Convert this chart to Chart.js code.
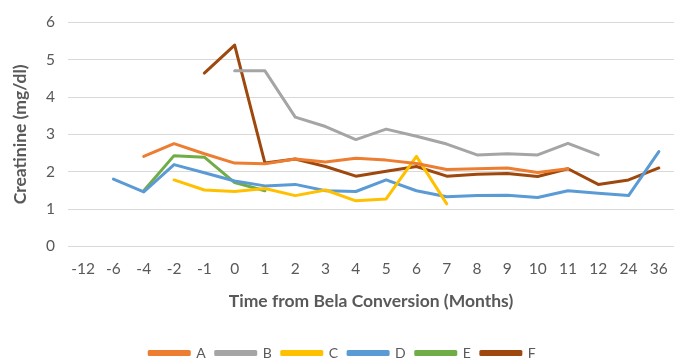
<!DOCTYPE html>
<html>
<head>
<meta charset="utf-8">
<script src="https://cdn.jsdelivr.net/npm/chart.js@4/dist/chart.umd.min.js"></script>
<style>
  html, body { margin: 0; padding: 0; background: #fff; }
  #wrap { width: 681px; height: 359px; }
</style>
</head>
<body>
<div id="wrap"><canvas id="c" width="681" height="359"></canvas></div>
<script>
// Months relative to belatacept conversion
const months = ['-12', '-6', '-4', '-2', '-1', '0', '1', '2', '3', '4', '5', '6', '7', '8', '9', '10', '11', '12', '24', '36'];

// Creatinine (mg/dl) per patient; null = no measurement
const seriesA = [null, null, 2.41, 2.75, 2.48, 2.23, 2.21, 2.34, 2.26, 2.36, 2.31, 2.22, 2.06, 2.08, 2.10, 1.98, 2.08, null, null, null];
const seriesB = [null, null, null, null, null, 4.70, 4.70, 3.46, 3.21, 2.86, 3.14, 2.95, 2.74, 2.45, 2.48, 2.45, 2.76, 2.45, null, null];
const seriesC = [null, null, null, 1.78, 1.51, 1.47, 1.55, 1.36, 1.51, 1.22, 1.27, 2.41, 1.14, null, null, null, null, null, null, null];
const seriesD = [null, 1.80, 1.46, 2.19, 1.97, 1.75, 1.62, 1.66, 1.49, 1.47, 1.78, 1.49, 1.33, 1.36, 1.37, 1.31, 1.49, 1.42, 1.36, 2.54];
const seriesE = [null, null, 1.49, 2.43, 2.39, 1.71, 1.49, null, null, null, null, null, null, null, null, null, null, null, null, null];
const seriesF = [null, null, null, null, 4.64, 5.39, 2.23, 2.34, 2.14, 1.88, 2.01, 2.14, 1.88, 1.93, 1.95, 1.87, 2.08, 1.66, 1.78, 2.10];

const yTicks = [0, 1, 2, 3, 4, 5, 6];

const FONT = 'Lato, "Open Sans", sans-serif';
const TEXT = '#595959';

function line(label, data, color) {
  return {
    label, data,
    borderColor: color,
    backgroundColor: color,
    borderWidth: 3,
    pointRadius: 0,
    pointHoverRadius: 0,
    tension: 0,
    spanGaps: false,
    borderCapStyle: 'round',
    borderJoinStyle: 'round'
  };
}

new Chart(document.getElementById('c'), {
  type: 'line',
  data: {
    labels: months,
    datasets: [
      line('A', seriesA, '#ED7D31'),
      line('B', seriesB, '#A5A5A5'),
      line('C', seriesC, '#FFC000'),
      line('D', seriesD, '#5B9BD5'),
      line('E', seriesE, '#70AD47'),
      line('F', seriesF, '#9E480E')
    ]
  },
  options: {
    responsive: false,
    animation: false,
    events: [],
    layout: { padding: { left: 10, right: 6, top: 12, bottom: -11 } },
    plugins: {
      tooltip: { enabled: false },
      legend: {
        position: 'bottom',
        labels: {
          font: { family: FONT, size: 14 },
          color: TEXT,
          boxWidth: 40,
          boxHeight: 3,
          padding: 10
        }
      }
    },
    scales: {
      x: {
        offset: true,
        grid: { display: false, drawTicks: false },
        border: { display: false },
        ticks: { font: { family: FONT, size: 15.5 }, color: TEXT, padding: 13, maxRotation: 0, autoSkip: false },
        title: {
          display: true,
          text: 'Time from Bela Conversion (Months)',
          font: { family: FONT, size: 17.5, weight: 'bold' },
          color: TEXT,
          padding: { top: 0, bottom: 24 }
        }
      },
      y: {
        min: 0, max: 6,
        afterBuildTicks: (axis) => { axis.ticks = yTicks.map(v => ({ value: v })); },
        grid: { color: '#D9D9D9', lineWidth: 1, drawTicks: false },
        border: { display: false },
        ticks: { font: { family: FONT, size: 15.5 }, color: TEXT, padding: 13 },
        title: {
          display: true,
          text: 'Creatinine (mg/dl)',
          font: { family: FONT, size: 17.5, weight: 'bold' },
          color: TEXT,
          padding: { top: 0, bottom: 2 }
        }
      }
    }
  }
});
</script>
</body>
</html>
